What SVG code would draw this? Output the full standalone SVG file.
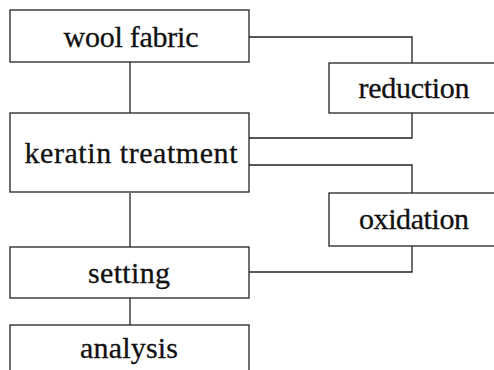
<svg xmlns="http://www.w3.org/2000/svg" width="494" height="370" viewBox="0 0 494 370">
<style>
.box{fill:#fff;stroke:#222;stroke-width:1.3}
.ln{fill:none;stroke:#222;stroke-width:1.3}
text{font-family:"Liberation Serif","DejaVu Serif",serif;font-size:30px;fill:#111;stroke:#111;stroke-width:0.3;text-anchor:middle}
</style>
<rect width="494" height="370" fill="#fff"/>
<g id="connectors">
<path class="ln" d="M130,62V113"/>
<path class="ln" d="M130,193V247"/>
<path class="ln" d="M130,298V325"/>
<path class="ln" d="M249,37H412V63"/>
<path class="ln" d="M412,113V138H249"/>
<path class="ln" d="M249,165H412V193"/>
<path class="ln" d="M412,246V272H249"/>
</g>
<g id="wool"><rect class="box" x="10" y="10" width="239" height="52"/><text x="131" y="47" textLength="135" lengthAdjust="spacing">wool fabric</text></g>
<g id="keratin"><rect class="box" x="10" y="113" width="239" height="79"/><text x="131" y="163" textLength="213" lengthAdjust="spacing">keratin treatment</text></g>
<g id="reduction"><rect class="box" x="329" y="63" width="175" height="50"/><text x="414" y="98" textLength="111" lengthAdjust="spacing">reduction</text></g>
<g id="oxidation"><rect class="box" x="329" y="193" width="175" height="53"/><text x="414" y="229" textLength="110" lengthAdjust="spacing">oxidation</text></g>
<g id="setting"><rect class="box" x="10" y="247" width="239" height="51"/><text x="129" y="283" textLength="82" lengthAdjust="spacing">setting</text></g>
<g id="analysis"><rect class="box" x="10" y="325" width="239" height="60"/><text x="129" y="358" textLength="98" lengthAdjust="spacing">analysis</text></g>
</svg>
